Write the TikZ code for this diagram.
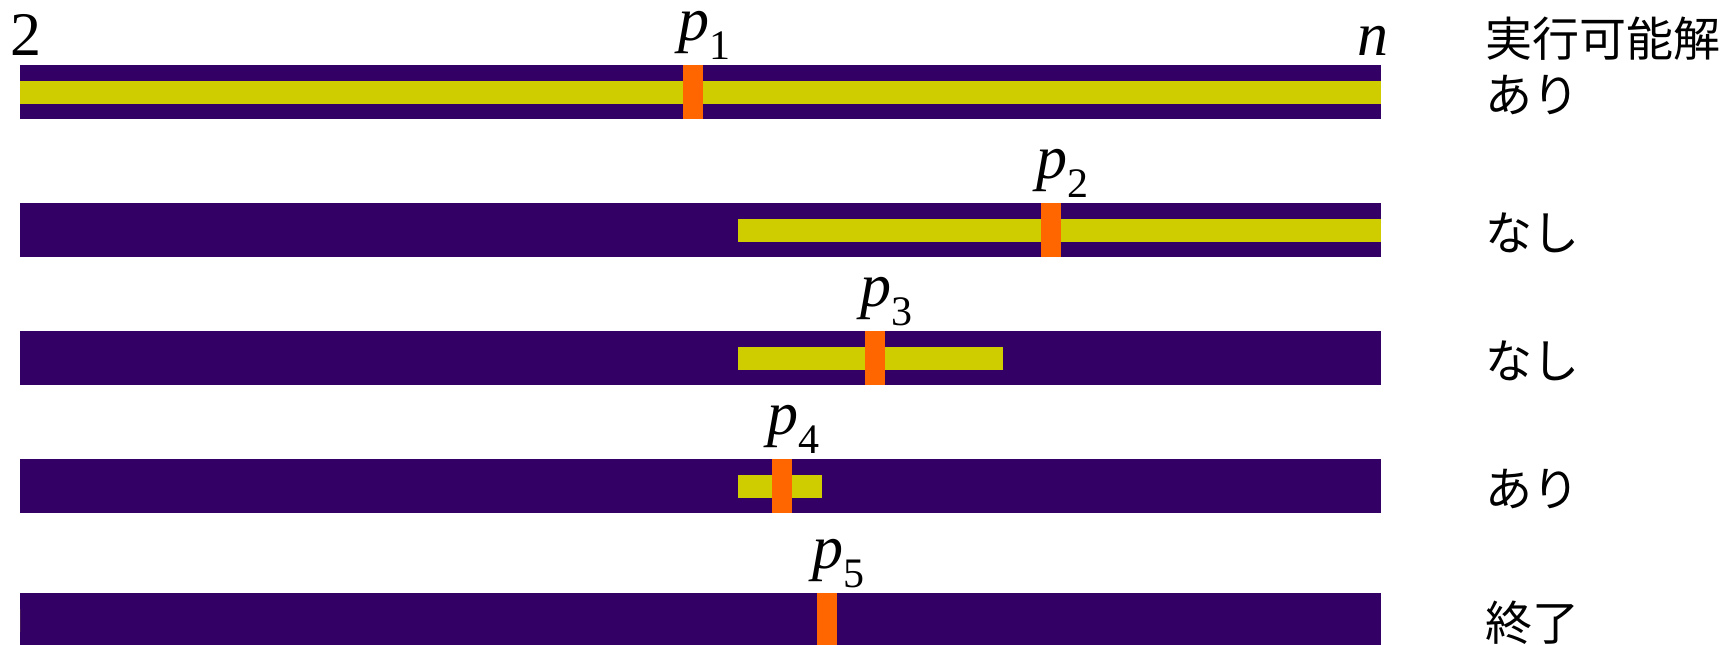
\documentclass[tikz,border=0pt]{standalone}
\usepackage{fontspec}
\setmainfont{Liberation Serif}
\newfontfamily\jpfont{Noto Sans CJK JP}
\usetikzlibrary{calc}
\definecolor{stInk}{HTML}{330066}
\definecolor{stFeas}{HTML}{CFCD00}
\definecolor{stPivot}{HTML}{FF6600}
\tikzset{
 strips/.style={x=.5pt,y=-.5pt,inner sep=0pt,line join=miter},
 track/.style={fill=stInk},
 feas/.style={fill=stFeas},
 pivot/.style={fill=stPivot},
 bound/.style={font=\fontsize{31}{31}\selectfont,anchor=base west,inner sep=0pt},
 pidx/.style={font=\fontsize{31}{31}\selectfont,anchor=base west,inner sep=0pt},
 verdict/.style={font=\jpfont\fontsize{23.5}{28}\selectfont,anchor=west,inner sep=0pt}
}
\newcommand{\pvt}[1]{\textit{p}\raisebox{-.32em}{\fontsize{21}{21}\selectfont #1}}

\begin{document}
\begin{tikzpicture}[strips]
 \useasboundingbox (0,0) rectangle (1728,644);
 \foreach \yt/\fa/\fb/\piv/\k/\res in {65/20/1381/683/1/あり,203/738/1381/1041/2/なし,331/738/1003/865/3/なし,459/738/822/772/4/あり,593/20/20/817/5/終了}{
  \fill[track] (20,\yt) rectangle (1381,\yt+54);
  \fill[feas] (\fa,\yt+16) rectangle (\fb,\yt+39);
  \fill[pivot] (\piv,\yt) rectangle (\piv+20,\yt+54);
  \node[pidx] (p\k) at (\piv-5,\yt-25) {\pvt{\k}};
  \node[verdict] (v\k) at (1485,\yt+30) {\res};
 }
 \node[bound] (lo) at (10,55) {2};
 \node[bound] (hi) at (1357,55) {\textit{n}};
 \node[verdict] (feasible) at ($(v1.west)+(0,-56)$) {実行可能解};
\end{tikzpicture}
\end{document}
